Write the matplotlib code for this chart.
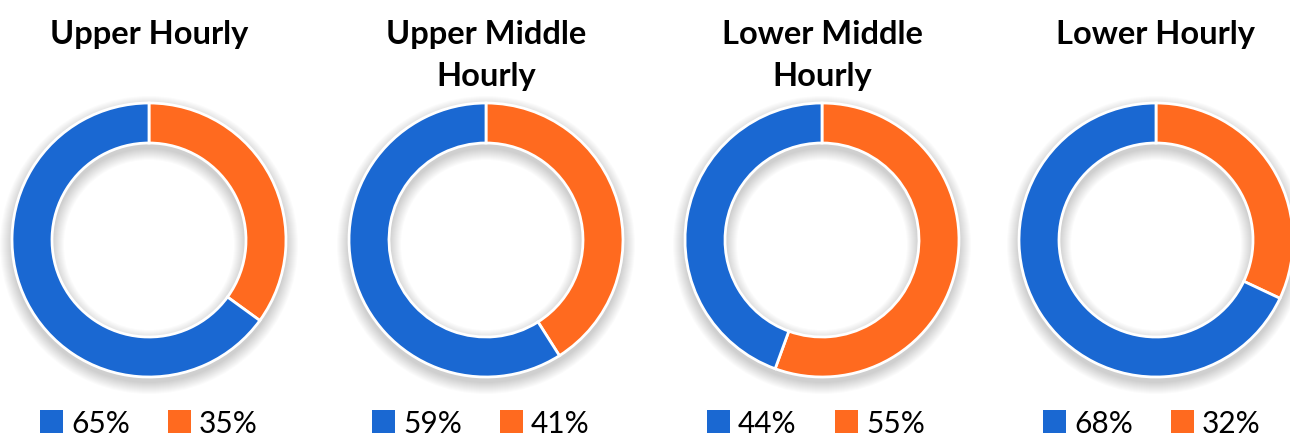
import numpy as np
import matplotlib
matplotlib.use("Agg")
from matplotlib import pyplot as plt
from matplotlib.patches import Rectangle, Wedge

# data
titles = ["Upper Hourly", "Upper Middle\nHourly", "Lower Middle\nHourly", "Lower Hourly"]
blue_vals = [65, 59, 44, 68]
orange_vals = [35, 41, 55, 32]

blue = "#1a68d2"
orange = "#ff6a1f"

W, H = 1290, 437
fig = plt.figure(figsize=(W / 100, H / 100), dpi=100)
ax = fig.add_axes([0, 0, 1, 1])

centers_x = [149, 486, 822, 1156]
legend_x = [40, 372, 707, 1043]
cy = H - 240
r_out = 137
ring = 40
font = ["Lato", "DejaVu Sans"]

for i in range(4):
    cx = centers_x[i]
    # soft shadow around ring
    for k in range(12):
        ax.add_patch(Wedge((cx, cy - 5), r_out + 1 + k, 0, 360, width=ring + 2 + 2 * k,
                           facecolor="black", alpha=0.014, lw=0))
    ax.pie([orange_vals[i], blue_vals[i]], colors=[orange, blue], startangle=90,
           counterclock=False, radius=r_out, center=(cx, cy), frame=True,
           wedgeprops=dict(width=ring, edgecolor="white", linewidth=2))
    # title, one line at a time
    for j, line in enumerate(titles[i].split("\n")):
        ax.text(cx, H - 44 - 42 * j, line, ha="center", va="baseline",
                fontsize=23.5, fontweight="bold", family=font)
    # legend
    lx = legend_x[i]
    ax.add_patch(Rectangle((lx, H - 433), 23, 23, color=blue, lw=0))
    ax.text(lx + 31, H - 433, f"{blue_vals[i]}%", ha="left", va="baseline",
            fontsize=21.5, family=font)
    ax.add_patch(Rectangle((lx + 128, H - 433), 23, 23, color=orange, lw=0))
    ax.text(lx + 159, H - 433, f"{orange_vals[i]}%", ha="left", va="baseline",
            fontsize=21.5, family=font)

ax.set_xlim(0, W)
ax.set_ylim(0, H)
ax.set_aspect("auto")
ax.axis("off")

fig.savefig("out.png", dpi=100)
